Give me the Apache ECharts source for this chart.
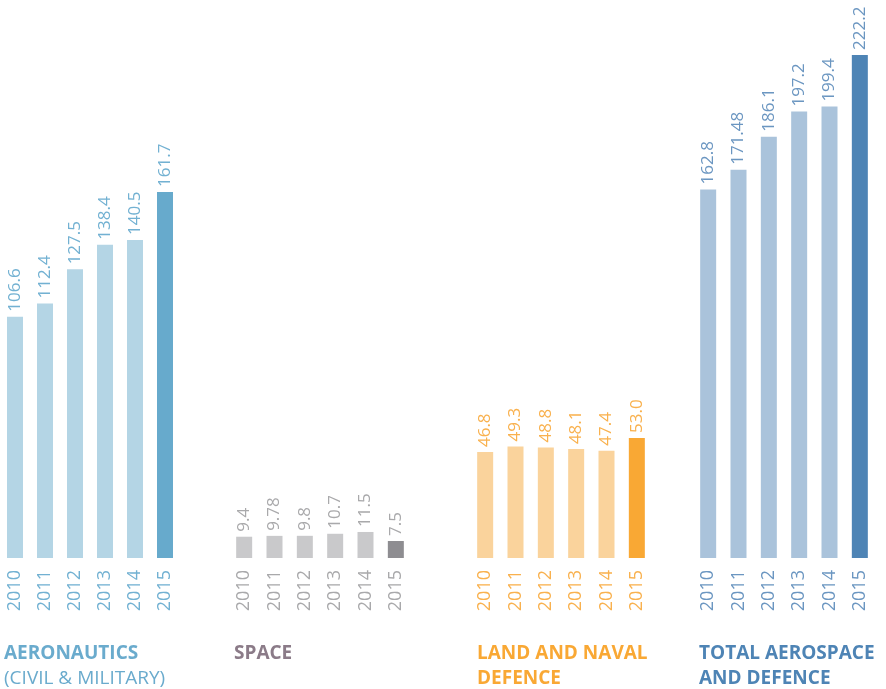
<!DOCTYPE html>
<html>
<head>
<meta charset="utf-8">
<script src="https://cdn.jsdelivr.net/npm/echarts@6/dist/echarts.min.js"></script>
<style>
  html, body { margin: 0; padding: 0; background: #fff; }
  #chart { width: 886px; height: 689px; }
</style>
</head>
<body>
<div id="chart"></div>
<script>
// data
const years = ['2010', '2011', '2012', '2013', '2014', '2015'];
const aeronautics = [106.6, 112.4, 127.5, 138.4, 140.5, 161.7];
const space = [9.4, 9.78, 9.8, 10.7, 11.5, 7.5];
const landNaval = [46.8, 49.3, 48.8, 48.1, 47.4, 53.0];
const total = [162.8, 171.48, 186.1, 197.2, 199.4, 222.2];
const labelsText = {
  aeronautics: ['106.6', '112.4', '127.5', '138.4', '140.5', '161.7'],
  space: ['9.4', '9.78', '9.8', '10.7', '11.5', '7.5'],
  landNaval: ['46.8', '49.3', '48.8', '48.1', '47.4', '53.0'],
  total: ['162.8', '171.48', '186.1', '197.2', '199.4', '222.2']
};

const groups = [
  { key: 'aeronautics', values: aeronautics, left: -2, light: '#b4d5e5', dark: '#67aacc', text: '#72b1d2' },
  { key: 'space', values: space, left: 229, light: '#c9c9cb', dark: '#8e8d91', text: '#a9a9ab' },
  { key: 'landNaval', values: landNaval, left: 470, light: '#fad39c', dark: '#f9a834', text: '#f9b14e' },
  { key: 'total', values: total, left: 693, light: '#aac3db', dark: '#4e84b5', text: '#6b96c1' }
];

const font = '"Open Sans", sans-serif';

const chart = echarts.init(document.getElementById('chart'));

const titleStyle = (color) => ({ color: color, fontFamily: font, fontWeight: 'bold', fontSize: 19, lineHeight: 25 });

const option = {
  animation: false,
  grid: groups.map(g => ({ left: g.left, width: 182, top: 14.7, bottom: 131 })),
  xAxis: groups.map((g, i) => ({
    type: 'category',
    gridIndex: i,
    data: years,
    axisLine: { show: false },
    axisTick: { show: false },
    axisLabel: {
      rotate: 90,
      margin: 12,
      color: g.text,
      fontFamily: font,
      fontSize: 18
    }
  })),
  yAxis: groups.map((g, i) => ({
    type: 'value',
    gridIndex: i,
    min: 0,
    max: 240,
    show: false,
    splitLine: { show: false }
  })),
  series: groups.map((g, i) => ({
    type: 'bar',
    xAxisIndex: i,
    yAxisIndex: i,
    barWidth: 16,
    data: g.values.map((v, j) => ({
      value: v,
      itemStyle: { color: j === g.values.length - 1 ? g.dark : g.light }
    })),
    label: {
      show: true,
      position: 'top',
      rotate: 90,
      align: 'left',
      verticalAlign: 'middle',
      distance: 5,
      color: g.text,
      fontFamily: font,
      fontSize: 17,
      formatter: p => labelsText[g.key][p.dataIndex]
    }
  })),
  title: [
    {
      text: 'AERONAUTICS',
      subtext: '(CIVIL & MILITARY)',
      left: 4, top: 641, padding: 0, itemGap: 0,
      textStyle: titleStyle('#6aabcd'),
      subtextStyle: { color: '#6aabcd', fontFamily: font, fontWeight: 'normal', fontSize: 19, lineHeight: 25 }
    },
    {
      text: 'SPACE',
      left: 234, top: 641, padding: 0,
      textStyle: titleStyle('#8b7b88')
    },
    {
      text: 'LAND AND NAVAL\nDEFENCE',
      left: 477, top: 641, padding: 0,
      textStyle: titleStyle('#f9a834')
    },
    {
      text: 'TOTAL AEROSPACE\nAND DEFENCE',
      left: 699, top: 641, padding: 0,
      textStyle: titleStyle('#4e84b5')
    }
  ]
};

chart.setOption(option);
</script>
</body>
</html>
